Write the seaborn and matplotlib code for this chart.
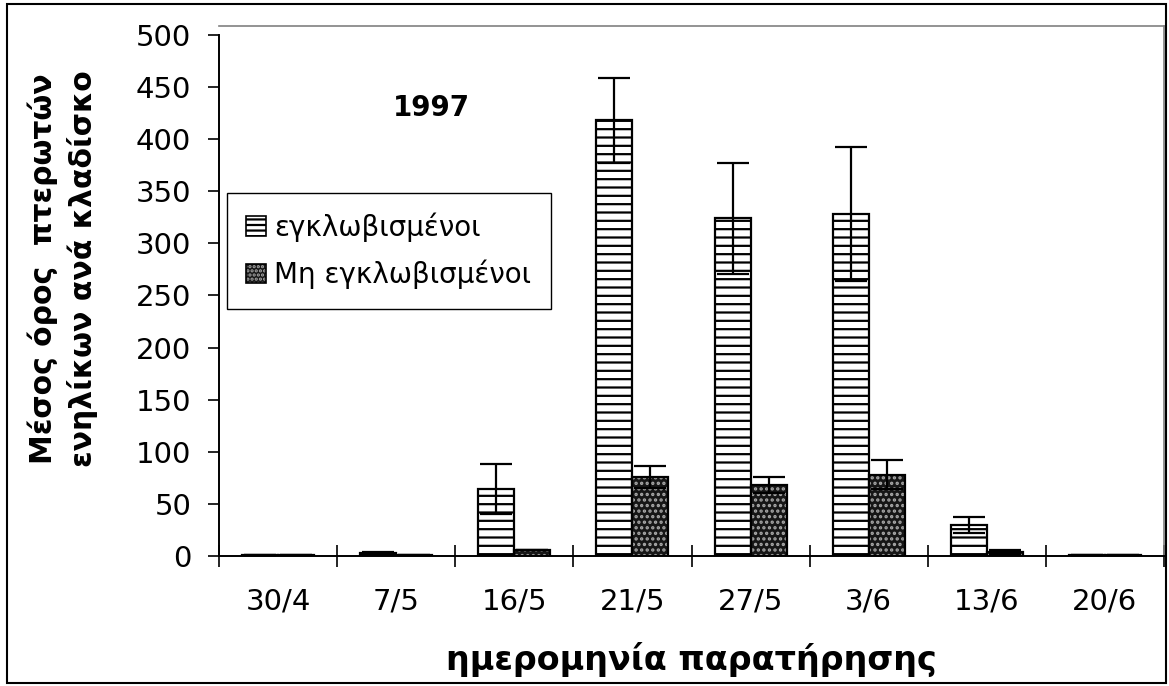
import matplotlib
matplotlib.use("Agg")
import matplotlib.pyplot as plt
import matplotlib.patches as mpatches
from matplotlib.legend_handler import HandlerTuple
import numpy as np
import pandas as pd
import seaborn as sns

# Observation dates and mean adult counts per twig (with error bars)
dates = ["30/4", "7/5", "16/5", "21/5", "27/5", "3/6", "13/6", "20/6"]
caged = [0.5, 2.5, 64, 418, 324, 328, 30, 0.5]
caged_err = [0, 1.5, 24, 41, 53, 64, 7.5, 0]
uncaged = [0.5, 0.8, 6, 76, 68, 78, 4, 0.5]
uncaged_err = [0, 0, 0, 10.5, 8, 14, 2, 0]
groups = ["εγκλωβισμένοι", "Μη εγκλωβισμένοι"]
yticks = [0, 50, 100, 150, 200, 250, 300, 350, 400, 450, 500]

sns.set_theme(style="white")
plt.rcParams["font.family"] = ["DejaVu Sans"]
plt.rcParams["hatch.linewidth"] = 1.6
for key in ["text.color", "axes.labelcolor", "xtick.color", "ytick.color"]:
    plt.rcParams[key] = "black"

df = pd.DataFrame({
    "date": dates * 2,
    "value": caged + uncaged,
    "group": [groups[0]] * len(dates) + [groups[1]] * len(dates),
})

fig = plt.figure(figsize=(11.69, 6.86), dpi=100)
ax = fig.add_axes([219 / 1169, 130 / 686, 945 / 1169, 530 / 686])

sns.barplot(data=df, x="date", y="value", hue="group", order=dates,
            hue_order=groups, palette=["white", "#161616"], width=0.61,
            edgecolor="black", linewidth=1.6, errorbar=None, legend=False,
            ax=ax)

DOT_COLOR = "#a8a8a8"
cont_caged, cont_uncaged = ax.containers[0], ax.containers[1]
for p in cont_caged:
    p.set_hatch("--")
    p.set_edgecolor("black")
for p in cont_uncaged:
    p.set_hatch("...")
    p.set_edgecolor(DOT_COLOR)
    p.set_linewidth(0)
    outline = mpatches.Rectangle(p.get_xy(), p.get_width(), p.get_height(),
                                 fill=False, edgecolor="black", linewidth=1.6,
                                 zorder=p.get_zorder() + 0.1)
    ax.add_patch(outline)

# error bars centred on each bar
for cont, vals, errs in [(cont_caged, caged, caged_err),
                         (cont_uncaged, uncaged, uncaged_err)]:
    xs = [p.get_x() + p.get_width() / 2 for p in cont]
    ax.errorbar(xs, vals, yerr=errs, fmt="none", ecolor="black",
                elinewidth=1.6, capsize=11.5, capthick=1.6, zorder=5)

ax.set_xlim(-0.5, len(dates) - 0.5)
ax.set_ylim(0, 508.5)
ax.set_yticks(yticks)
ax.tick_params(axis="y", which="major", direction="out", length=8,
               width=1.2, color="black", labelcolor="black", labelsize=21,
               pad=12, left=True)

# category boundaries as crossing ticks, labels at category centres
ax.set_xticks(np.arange(-0.5, len(dates), 1.0))
ax.set_xticklabels([])
ax.set_xticks(np.arange(len(dates)), minor=True)
ax.set_xticklabels(dates, minor=True)
ax.tick_params(axis="x", which="major", direction="inout", length=16,
               width=1.2, color="black", bottom=True)
ax.tick_params(axis="x", which="minor", length=0, labelsize=21, pad=23,
               labelcolor="black")

for side in ["left", "bottom"]:
    ax.spines[side].set_color("black")
    ax.spines[side].set_linewidth(1.4)
ax.spines["left"].set_bounds(0, 500)
for side in ["top", "right"]:
    ax.spines[side].set_color("#808080")
    ax.spines[side].set_linewidth(1.2)
ax.grid(False)

ax.set_xlabel("ημερομηνία παρατήρησης", fontsize=24, fontweight="bold",
              labelpad=19, color="black")
ax.set_ylabel("Μέσος όρος  πτερωτών\nενηλίκων ανά κλαδίσκο", fontsize=21.5,
              fontweight="bold", linespacing=1.38, color="black")
ax.yaxis.set_label_coords(-0.128, 0.5415)

ax.text(0.225, 0.845, "1997", transform=ax.transAxes, fontsize=20,
        fontweight="bold", ha="center", va="center", color="black")

h1 = mpatches.Patch(facecolor="white", edgecolor="black", hatch="---",
                    linewidth=1.2)
h2a = mpatches.Patch(facecolor="#161616", edgecolor=DOT_COLOR, hatch="....",
                     linewidth=0)
h2b = mpatches.Patch(fill=False, edgecolor="black", linewidth=1.2)
leg = ax.legend([h1, (h2a, h2b)], groups, loc="upper left",
                bbox_to_anchor=(0.0085, 0.685), borderaxespad=0,
                fontsize=20, frameon=True, fancybox=False, framealpha=1,
                edgecolor="black", handlelength=0.7, handleheight=0.7,
                handletextpad=0.3, labelspacing=0.65, borderpad=0.7,
                handler_map={tuple: HandlerTuple(ndivide=1, pad=0)})
leg.get_frame().set_linewidth(1.0)
for t in leg.get_texts():
    t.set_color("black")

fig.patches.append(mpatches.Rectangle((7 / 1169, 3 / 686), 1159 / 1169,
                                      679 / 686, transform=fig.transFigure,
                                      fill=False, edgecolor="black",
                                      linewidth=1.5))

fig.savefig("out.png", dpi=100, facecolor="white")
